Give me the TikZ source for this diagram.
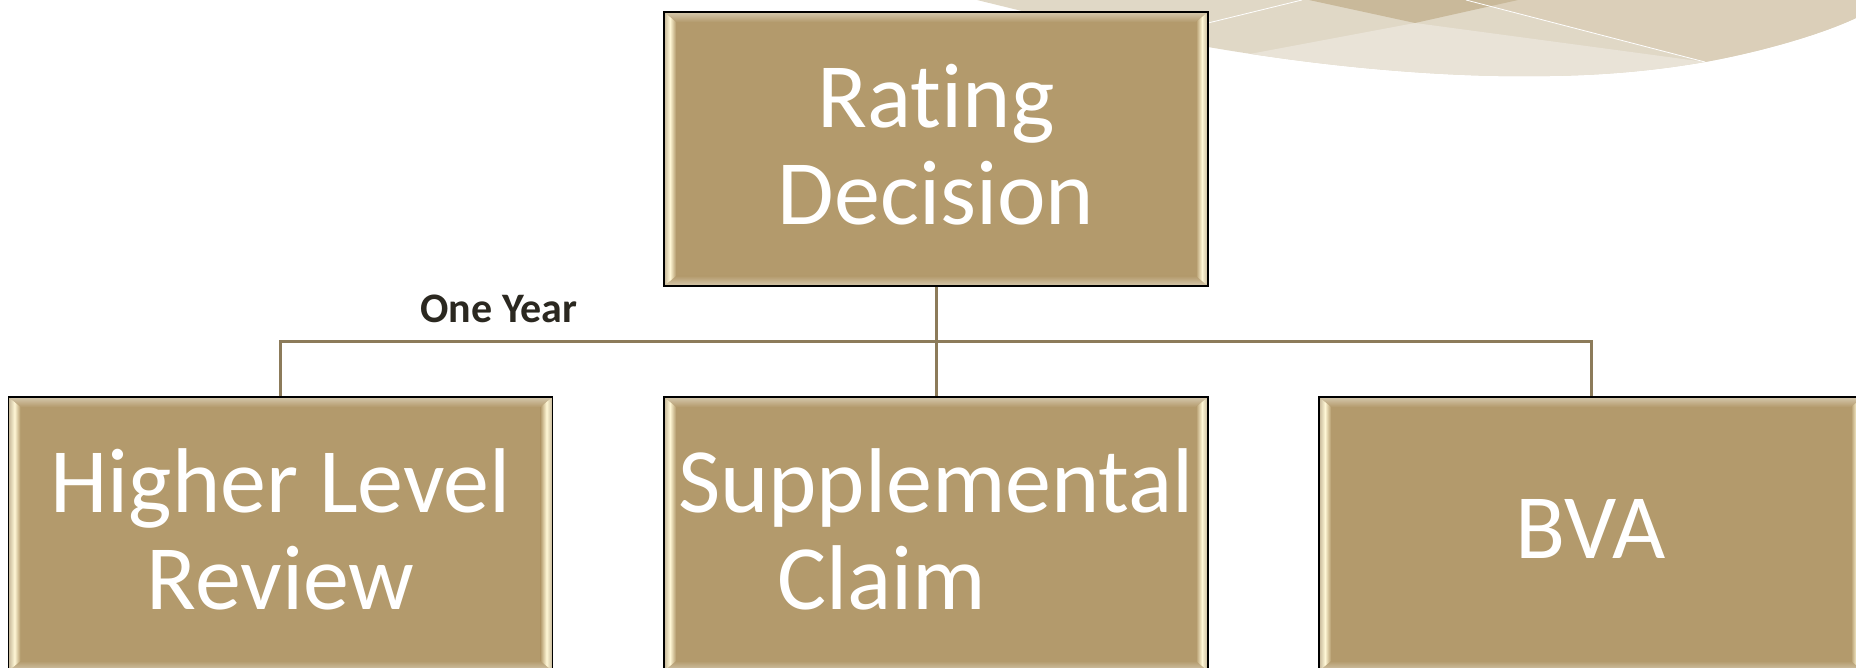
\documentclass[tikz,border=0pt]{standalone}
\usepackage{fontspec}
\setmainfont{Carlito}[Ligatures=NoCommon]
\usetikzlibrary{calc}
\usepackage{xcolor}
\definecolor{boxfill}{HTML}{B39A6C}
\definecolor{bevtop}{HTML}{D6C9AE}
\definecolor{bevside}{HTML}{C4B597}
\definecolor{bevhi}{HTML}{FFF7D6}
\definecolor{linkc}{HTML}{8C7B5A}
\definecolor{tagc}{HTML}{2B2820}
\definecolor{swbase}{HTML}{E0D8C6}
\definecolor{swright}{HTML}{DBCFB9}
\definecolor{swdark}{HTML}{C9B99A}
\definecolor{swlight}{HTML}{E9E3D7}
\newcommand{\bevel}{%
  \coordinate (bnw) at (path picture bounding box.north west);
  \coordinate (bne) at (path picture bounding box.north east);
  \coordinate (bsw) at (path picture bounding box.south west);
  \coordinate (bse) at (path picture bounding box.south east);
  \shade[top color=bevtop, bottom color=boxfill] (bnw) -- (bne) -- ($(bne)+(-12,10)$) -- ($(bnw)+(12,10)$) -- cycle;
  \shade[top color=boxfill, bottom color=bevtop] (bsw) -- (bse) -- ($(bse)+(-12,-10)$) -- ($(bsw)+(12,-10)$) -- cycle;
  \shade[left color=bevside, right color=boxfill, middle color=bevhi] (bnw) -- ($(bnw)+(12,10)$) -- ($(bsw)+(12,-10)$) -- (bsw) -- cycle;
  \shade[left color=boxfill, right color=bevside, middle color=bevhi] (bne) -- ($(bne)+(-12,10)$) -- ($(bse)+(-12,-10)$) -- (bse) -- cycle;
}
\newcommand{\swoosh}{(977,0) -- (1856,0) -- (1856,18) .. controls (1820,35) and (1760,52) .. (1705,62) .. controls (1670,68) and (1620,75) .. (1550,76) .. controls (1450,78) and (1330,68) .. (1208,47) -- (1100,40) -- (1030,13) -- cycle}

\begin{document}
\begin{tikzpicture}[x=1pt, y=-1pt,
  box/.style={rectangle, draw=black, line width=1.2pt, fill=boxfill, minimum width=544pt, minimum height=274pt, inner sep=0pt, align=center, text=white, text depth=10pt, font=\fontsize{92}{97}\selectfont, path picture={\bevel}},
  link/.style={draw=linkc, line width=3pt},
  tag/.style={font=\fontsize{42}{42}\selectfont\bfseries, text=tagc, inner sep=0pt}
]
\useasboundingbox (0,0) rectangle (1856,668);
\fill[swbase] \swoosh;
\begin{scope}
\clip \swoosh;
\fill[swright] (1466,0) -- (1856,0) -- (1856,80) -- (1705,62) -- cycle;
\fill[swlight] (1095,83) -- (1415,23) -- (1750,68) -- (1750,90) -- (1095,90) -- cycle;
\fill[swdark] (1309,0) -- (1518,0) -- (1415,23) -- cycle;
\draw[white, line width=0.8pt] (1208,23) -- (1302,0);
\draw[white, line width=0.8pt] (1466,0) -- (1705,62);
\end{scope}
\node[box] (rating) at (936,149) {Rating\\Decision};
\node[box] (hlr) at (280.5,534) {Higher Level\\Review};
\node[box] (supp) at (936,534) {Supplemental\\Claim\hspace*{109pt}};
\node[box] (bva) at (1591,534) {BVA};
\coordinate (bar) at ($(rating.south)!.5!(supp.north)$);
\draw[link] (rating) -- (supp);
\draw[link] (hlr) |- (bar) -| (bva);
\node[tag, anchor=base] (oneyear) at (499,323) {One Year};
\end{tikzpicture}
\end{document}
